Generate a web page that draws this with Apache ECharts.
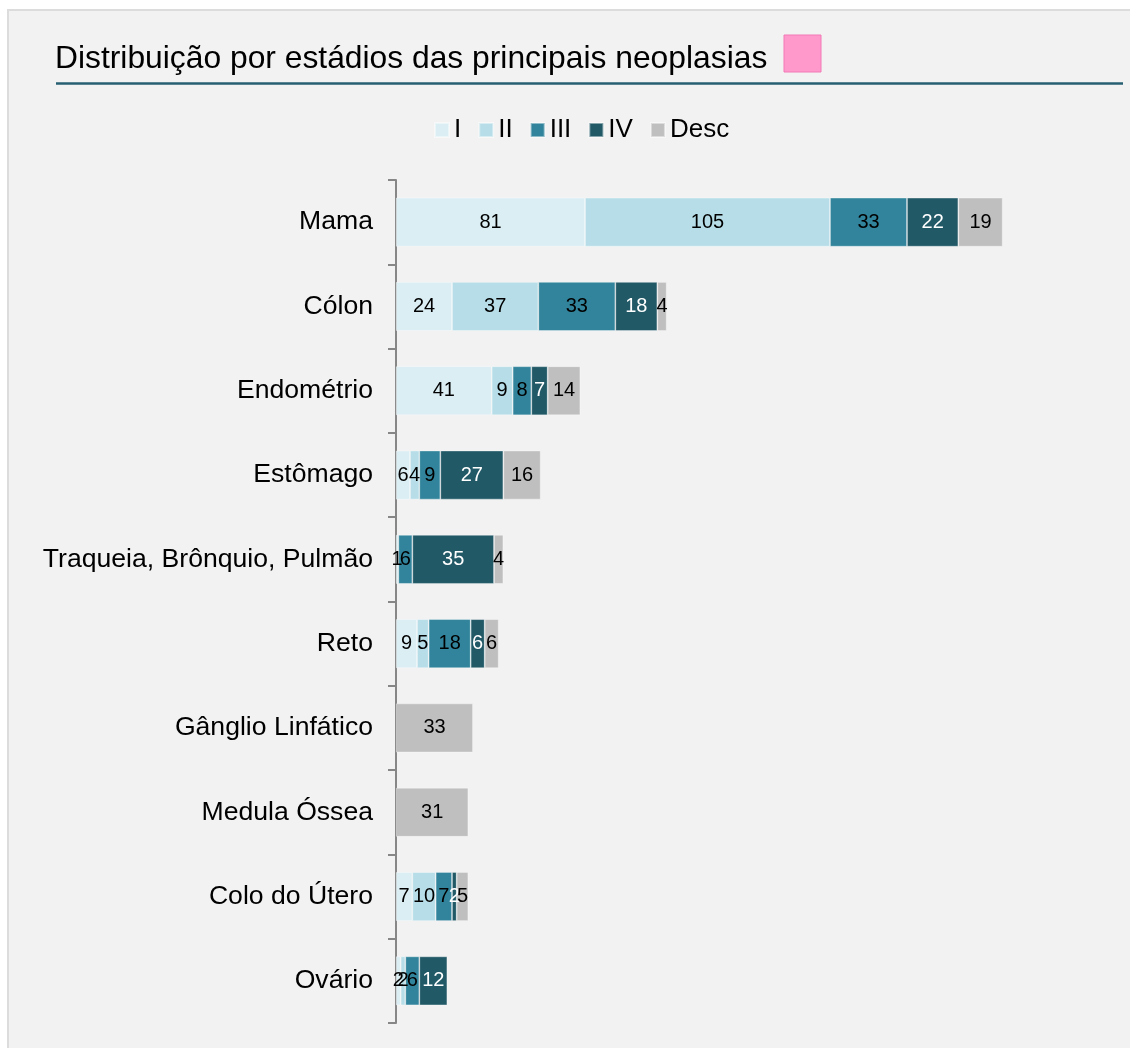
<!DOCTYPE html>
<html>
<head>
<meta charset="utf-8">
<style>
  html, body { margin: 0; padding: 0; background: #ffffff; }
  #chart { width: 1130px; height: 1048px; }
</style>
<script src="https://cdn.jsdelivr.net/npm/echarts@6/dist/echarts.min.js"></script>
</head>
<body>
<div id="chart"></div>
<script>
// Tumour sites, top to bottom
const categories = ['Mama', 'Cólon', 'Endométrio', 'Estômago', 'Traqueia, Brônquio, Pulmão',
  'Reto', 'Gânglio Linfático', 'Medula Óssea', 'Colo do Útero', 'Ovário'];

// Case counts per stage (null = no cases recorded)
const stageI    = [81, 24, 41, 6, 1, 9, null, null, 7, 2];
const stageII   = [105, 37, 9, 4, null, 5, null, null, 10, 2];
const stageIII  = [33, 33, 8, 9, 6, 18, null, null, 7, 6];
const stageIV   = [22, 18, 7, 27, 35, 6, null, null, 2, 12];
const stageDesc = [19, 4, 14, 16, 4, 6, 33, 31, 5, null];

const stageNames = ['I', 'II', 'III', 'IV', 'Desc'];
const stageColors = ['#dbeef4', '#b7dee8', '#31849b', '#215967', '#bfbfbf'];
const labelColors = ['#000000', '#000000', '#000000', '#ffffff', '#000000'];
const stageData = [stageI, stageII, stageIII, stageIV, stageDesc];

const FONT = '"Liberation Sans", Arial, sans-serif';

const chart = echarts.init(document.getElementById('chart'), null, { renderer: 'canvas' });

const series = stageNames.map((name, i) => ({
  name: name,
  type: 'bar',
  stack: 'total',
  barWidth: 49,
  data: stageData[i],
  itemStyle: { color: stageColors[i], borderColor: 'rgba(255,255,255,0.45)', borderWidth: 0.8 },
  label: {
    show: true,
    position: 'inside',
    color: labelColors[i],
    fontFamily: FONT,
    fontSize: 20,
    padding: [3, 0, 0, 0],
    formatter: p => (p.value == null || p.value === 0) ? '' : String(p.value)
  },
  emphasis: { disabled: true }
}));

chart.setOption({
  animation: false,
  backgroundColor: '#ffffff',
  graphic: [
    {
      type: 'rect', z: -10,
      shape: { x: 8, y: 10, width: 1140, height: 1060 },
      style: { fill: '#f2f2f2', stroke: '#dcdcdc', lineWidth: 2 }
    },
    {
      type: 'line', z: 5,
      shape: { x1: 56, y1: 83.5, x2: 1123, y2: 83.5 },
      style: { stroke: '#275f72', lineWidth: 2.5 }
    },
    {
      type: 'rect', z: 5,
      shape: { x: 784, y: 35, width: 37, height: 37 },
      style: { fill: '#ff99cc', stroke: '#f27ab6', lineWidth: 1 }
    }
  ],
  title: {
    text: 'Distribuição por estádios das principais neoplasias',
    left: 55,
    top: 43,
    padding: 0,
    textStyle: { fontFamily: FONT, fontSize: 31.8, fontWeight: 'normal', color: '#000000' }
  },
  legend: {
    data: stageNames,
    left: 434,
    top: 117,
    padding: 0,
    itemWidth: 14,
    itemHeight: 14,
    itemGap: 17,
    icon: 'rect',
    textStyle: { fontFamily: FONT, fontSize: 26, color: '#000000' }
  },
  grid: { left: 396, top: 180, width: 700, height: 843, containLabel: false },
  xAxis: {
    type: 'value',
    min: 0,
    max: 300,
    show: false,
    splitLine: { show: false }
  },
  yAxis: {
    type: 'category',
    data: categories,
    inverse: true,
    axisLine: { show: true, lineStyle: { color: '#878787', width: 2 } },
    axisTick: { show: true, length: 8, lineStyle: { color: '#878787', width: 2 } },
    axisLabel: { fontFamily: FONT, fontSize: 26.6, color: '#000000', margin: 23, padding: [5, 0, 0, 0] },
    splitLine: { show: false }
  },
  series: series
});
</script>
</body>
</html>
